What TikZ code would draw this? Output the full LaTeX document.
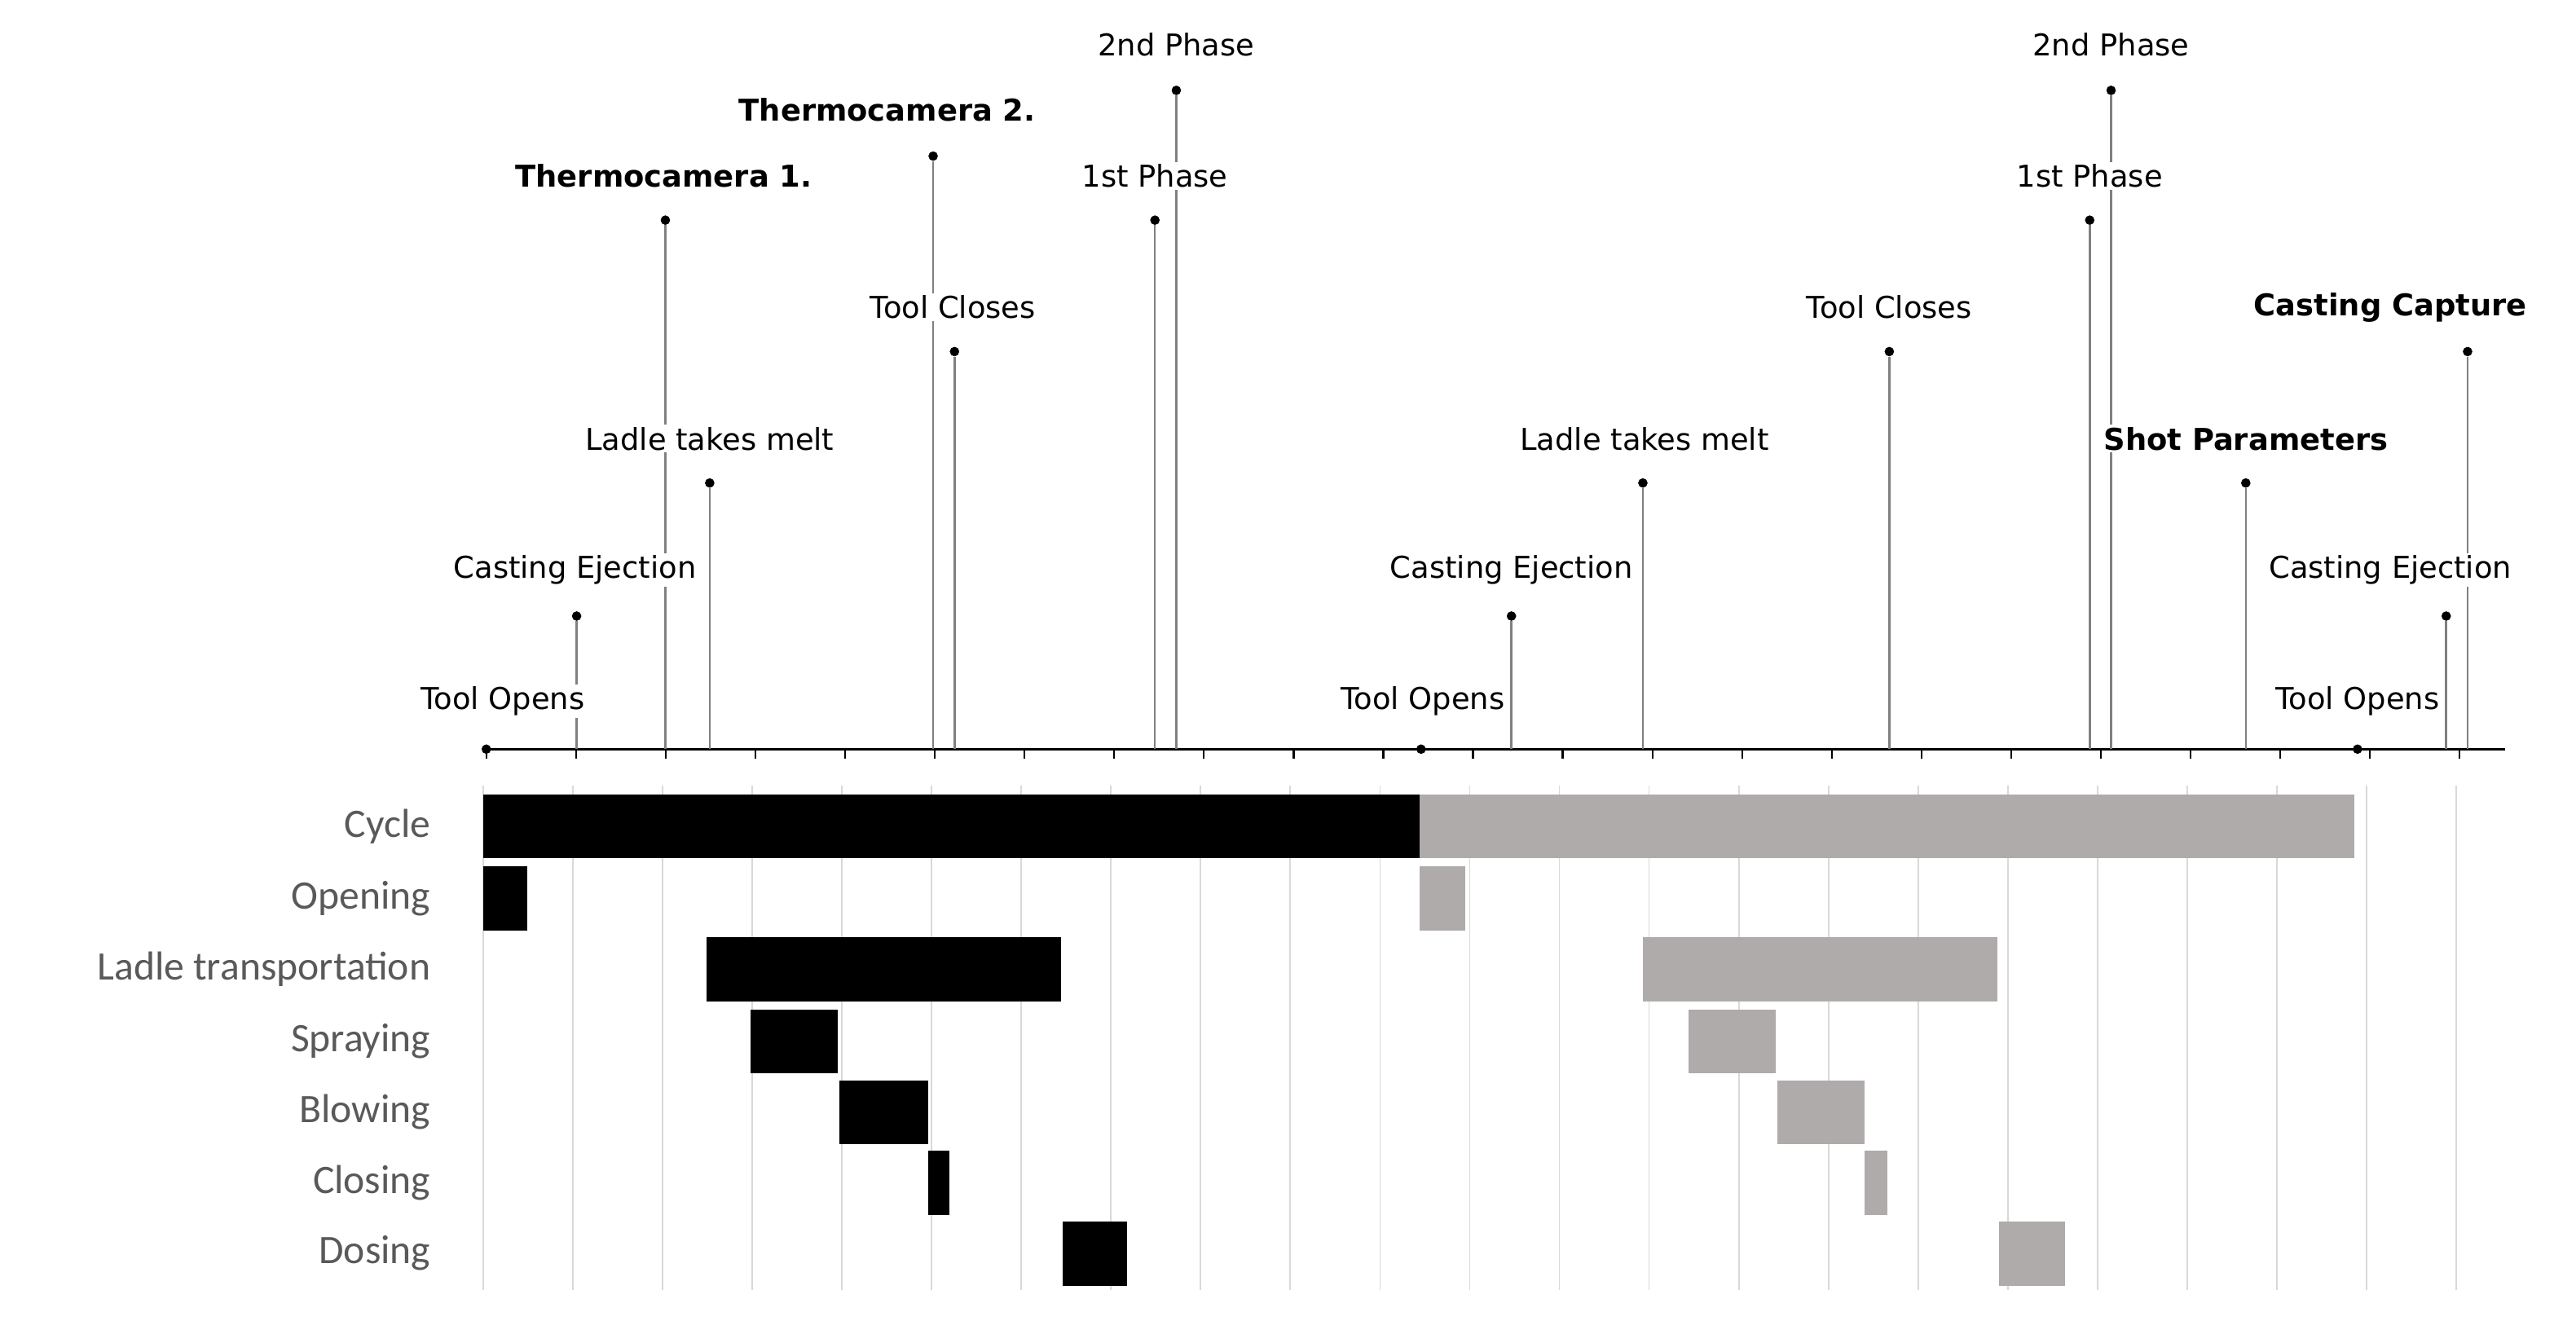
\documentclass[tikz,border=0pt]{standalone}
\usepackage{fontspec}
\setmainfont{DejaVu Sans}
\newfontfamily\rowfont{Carlito}
\definecolor{StemGrey}{RGB}{128,128,128}
\definecolor{GridGrey}{RGB}{217,217,217}
\definecolor{BarGrey}{RGB}{175,171,171}
\definecolor{RowText}{RGB}{89,89,89}
\tikzset{
  event/.style={fill=white,inner sep=1pt,font=\fontsize{13}{13}\selectfont},
  keyevent/.style={event,font=\fontsize{13}{13}\selectfont\bfseries},
  dot/.style={circle,fill=black,inner sep=0pt,minimum size=4pt},
  stem/.style={StemGrey,line width=0.9pt},
  rowlabel/.style={anchor=east,RowText,font=\rowfont\fontsize{17.5}{17.5}\selectfont},
  barA/.style={fill=black},
  barB/.style={fill=BarGrey}
}
\begin{document}
\begin{tikzpicture}[x=0.025cm,y=-0.025cm]

  \useasboundingbox (0,0) rectangle (1568,812);

  % grid of the gantt part
  \foreach \i in {0,...,22}
    \draw[GridGrey,line width=0.6pt] (294+54.6*\i,478) -- (294+54.6*\i,785);

  % time axis
  \coordinate (axisL) at (296,456);
  \coordinate (axisR) at (1525,456);
  \draw[black,line width=1pt] (axisL) -- (axisR);
  \foreach \i in {0,...,22}
    \draw[black,line width=0.8pt] (296+54.6*\i,456) -- (296+54.6*\i,462);

  % events: name/x/dot y
  \foreach \n/\x/\y in {opA/296/456, ejA/351/375, tcA/405/134, ldA/432/294,
      tcB/568/95, clA/581/214, phA/703/134, phB/716/55,
      opB/865/456, ejB/920/375, ldB/1000/294, clB/1150/214,
      phC/1272/134, phD/1285/55, shot/1367/294, cap/1502/214,
      opC/1435/456, ejC/1489/375}
  {
    \node[dot] (\n) at (\x,\y) {};
    \coordinate (\n-base) at (\x,456);
    \draw[stem] (\n) -- (\n-base);
  }

  % event labels
  \node[event] (opA-t) at (306,427) {Tool Opens};
  \node[event] (ejA-t) at (350,347) {Casting Ejection};
  \node[keyevent] (tcA-t) at (404,107) {Thermocamera 1.};
  \node[event] (ldA-t) at (432,267) {Ladle takes melt};
  \node[keyevent] (tcB-t) at (540,67) {Thermocamera 2.};
  \node[event] (clA-t) at (580,187) {Tool Closes};
  \node[event] (phA-t) at (703,107) {1st Phase};
  \node[event] (phB-t) at (716,27) {2nd Phase};
  \node[event] (opB-t) at (866,427) {Tool Opens};
  \node[event] (ejB-t) at (920,347) {Casting Ejection};
  \node[event] (ldB-t) at (1001,267) {Ladle takes melt};
  \node[event] (clB-t) at (1150,187) {Tool Closes};
  \node[event] (phC-t) at (1272,107) {1st Phase};
  \node[event] (phD-t) at (1285,27) {2nd Phase};
  \node[keyevent] (shot-t) at (1367,267) {Shot Parameters};
  \node[keyevent] (cap-t) at (1455,187) {Casting Capture};
  \node[event] (opC-t) at (1435,427) {Tool Opens};
  \node[event] (ejC-t) at (1455,347) {Casting Ejection};

  % redraw dots above the labels
  \foreach \n in {opA,ejA,tcA,ldA,tcB,clA,phA,phB,opB,ejB,ldB,clB,phC,phD,shot,cap,opC,ejC}
    \fill (\n) circle (2pt);

  % gantt rows: name/label/y
  \foreach \n/\t/\y in {cyc/Cycle/503, opn/Opening/547, lad/Ladle transportation/590,
      spr/Spraying/634, blo/Blowing/677, clo/Closing/720, dos/Dosing/763}
    \node[rowlabel] (\n) at (267,\y) {\t};

  % first cycle
  \foreach \a/\b/\y in {294/864/503, 294/321/547, 430/646/590, 457/510/634,
      511/565/677, 565/578/720, 647/686/763}
    \fill[barA] (\a,\y-19.5) rectangle (\b,\y+19.5);

  % second cycle
  \foreach \a/\b/\y in {864/1433/503, 864/892/547, 1000/1216/590, 1028/1081/634,
      1082/1135/677, 1135/1149/720, 1217/1257/763}
    \fill[barB] (\a,\y-19.5) rectangle (\b,\y+19.5);

\end{tikzpicture}
\end{document}
